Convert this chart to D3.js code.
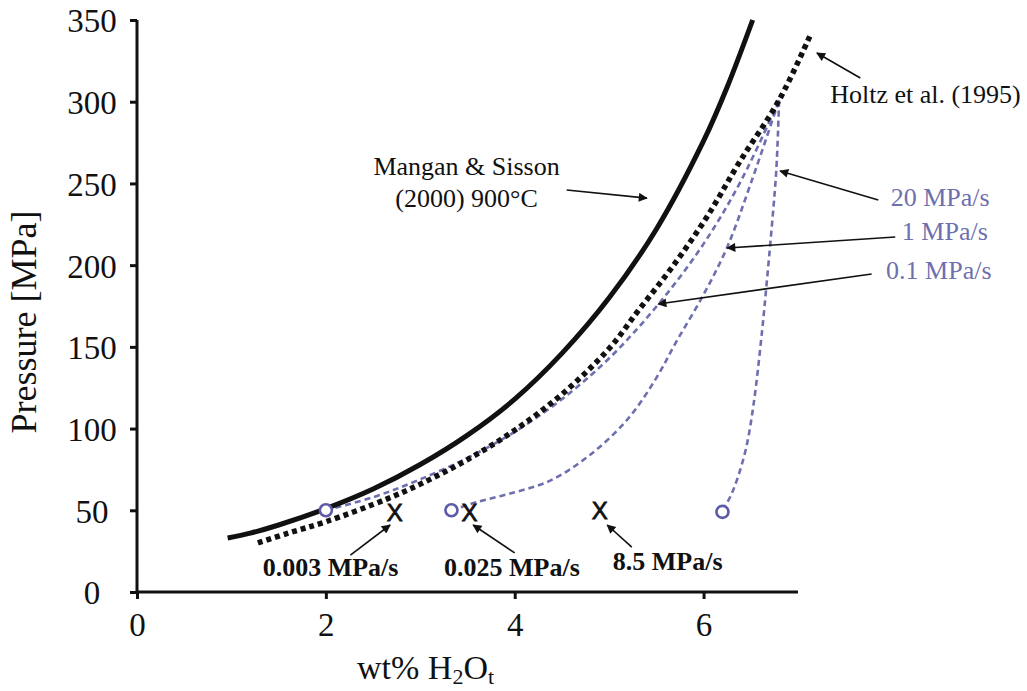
<!DOCTYPE html>
<html>
<head>
<meta charset="utf-8">
<script src="https://cdn.jsdelivr.net/npm/d3@7"></script>
<style>
 body { margin: 0; background: #fff; }
 svg { display: block; }
 .tick text { font-family: "Liberation Serif", "Times New Roman", serif; }
</style>
</head>
<body>
<svg width="1027" height="691"></svg>
<script>
// Mangan & Sisson (2000) 900°C solubility curve
const mangan = [
 [0.96, 33], [1.2, 36], [1.5, 41], [2.0, 51], [2.5, 63], [3.0, 78], [3.5, 96],
 [4.0, 118], [4.5, 146], [5.0, 180], [5.5, 222], [6.0, 276], [6.25, 309],
 [6.52, 350]
];

// Holtz et al. (1995)
const holtz = [
 [1.28, 30], [1.6, 36], [2.0, 43], [2.65, 57], [3.0, 66], [3.5, 81], [4.0, 99],
 [4.5, 121], [5.0, 149], [5.32, 173], [5.67, 199], [6.03, 229], [6.38, 263],
 [6.8, 301], [7.14, 342]
];

// decompression paths
const rate01 = [
 [2.0, 50], [2.5, 58], [2.96, 68], [3.5, 82], [4.0, 98], [4.5, 118], [5.0, 143],
 [5.52, 176], [6.0, 213], [6.4, 252], [6.8, 301]
];
const rate1 = [
 [3.33, 50], [3.6, 55], [4.0, 61], [4.37, 68], [4.8, 84], [5.2, 106], [5.5, 131],
 [5.71, 153], [6.0, 182], [6.25, 211], [6.5, 250], [6.8, 301]
];
const rate20 = [
 [6.2, 50], [6.28, 58], [6.35, 68], [6.45, 88], [6.53, 115], [6.62, 160],
 [6.67, 190], [6.72, 222], [6.77, 258], [6.8, 301]
];

const circles = [[2.0, 50], [3.33, 50], [6.2, 49]];
const crosses = [[2.73, 49], [3.52, 49], [4.9, 50]];

const xTicks = [0, 2, 4, 6];
const yTicks = [0, 50, 100, 150, 200, 250, 300, 350];

// annotation text: [w, P, text]
const bottomLabels = [[2.05, 9.5, "0.003 MPa/s"], [3.97, 9.5, "0.025 MPa/s"], [5.62, 13.5, "8.5 MPa/s"]];
const rateLabels = [[9.03, 236, "20 MPa/s"], [9.01, 215.4, "1 MPa/s"], [9.05, 191.5, "0.1 MPa/s"]];
const manganLabel = [[3.49, 255.2, "Mangan & Sisson"], [3.49, 235.6, "(2000) 900°C"]];
const holtzLabel = [8.35, 299.2, "Holtz et al. (1995)"];

// arrows: [w1, P1, w2, P2]
const arrows = [
 [2.26, 22.6, 2.68, 41], [4.0, 23.9, 3.56, 41], [5.24, 27.5, 4.98, 41],
 [4.55, 246, 5.4, 241],
 [7.66, 314.5, 7.2, 329.8],
 [7.85, 239.9, 6.81, 257.6], [8.03, 217.2, 6.25, 210.5], [7.78, 194.6, 5.52, 176.2]
];

const purple = "#6e6fae";
const serif = "'Liberation Serif', 'Times New Roman', serif";

const svg = d3.select("svg");

const x = d3.scaleLinear().domain([0, 7]).range([137, 798]);
const y = d3.scaleLinear().domain([0, 350]).range([592, 20]);

svg.append("defs")
 .append("marker")
 .attr("id", "head")
 .attr("viewBox", "0 0 10 10")
 .attr("refX", 9)
 .attr("refY", 5)
 .attr("markerWidth", 11)
 .attr("markerHeight", 9)
 .attr("markerUnits", "userSpaceOnUse")
 .attr("orient", "auto")
 .append("path")
 .attr("d", "M0,0 L10,5 L0,10 Z")
 .attr("fill", "#111");

// axes
const xAxis = svg.append("g")
 .attr("transform", `translate(0,${y(0)})`)
 .call(d3.axisBottom(x).tickValues(xTicks).tickFormat(d3.format("d"))
  .tickSize(7).tickSizeOuter(0).tickPadding(14));
const yAxis = svg.append("g")
 .attr("transform", `translate(${x(0)},0)`)
 .call(d3.axisLeft(y).tickValues(yTicks).tickSize(7).tickSizeOuter(0));

[xAxis, yAxis].forEach(a => {
 a.select(".domain").attr("stroke", "#111").attr("stroke-width", 3);
 a.selectAll(".tick line").attr("stroke", "#111").attr("stroke-width", 3);
 a.selectAll(".tick text").attr("fill", "#111").attr("font-size", 33);
});
xAxis.select(".domain").attr("d", `M${x(0)},0H${x(7)}`);
yAxis.select(".domain").attr("d", `M0,${y(0)}V${y(350)}`);
yAxis.selectAll(".tick text")
 .attr("text-anchor", "middle")
 .attr("x", 92 - x(0))
 .attr("dy", "0.36em");

// axis titles
svg.append("text")
 .attr("transform", "translate(36,322) rotate(-90)")
 .attr("text-anchor", "middle")
 .attr("font-family", serif)
 .attr("font-size", 36)
 .attr("fill", "#111")
 .text("Pressure [MPa]");

const xt = svg.append("text")
 .attr("x", 357)
 .attr("y", 679)
 .attr("font-family", serif)
 .attr("font-size", 34)
 .attr("fill", "#111");
xt.append("tspan").text("wt% H");
xt.append("tspan").attr("font-size", 22).attr("dy", 5).text("2");
xt.append("tspan").attr("dy", -5).text("O");
xt.append("tspan").attr("font-size", 22).attr("dy", 5).text("t");

// curves
const line = d3.line().x(d => x(d[0])).y(d => y(d[1])).curve(d3.curveCatmullRom);

[rate01, rate1, rate20].forEach(s => {
 svg.append("path")
  .attr("d", line(s))
  .attr("fill", "none")
  .attr("stroke", purple)
  .attr("stroke-width", 2.6)
  .attr("stroke-dasharray", "6,4");
});

svg.append("path")
 .attr("d", line(holtz))
 .attr("fill", "none")
 .attr("stroke", "#111")
 .attr("stroke-width", 5.5)
 .attr("stroke-dasharray", "5,4");

svg.append("path")
 .attr("d", line(mangan))
 .attr("fill", "none")
 .attr("stroke", "#111")
 .attr("stroke-width", 5);

svg.selectAll(".pt")
 .data(circles)
 .enter()
 .append("circle")
 .attr("cx", d => x(d[0]))
 .attr("cy", d => y(d[1]))
 .attr("r", 6)
 .attr("fill", "#fff")
 .attr("stroke", "#5d5aa8")
 .attr("stroke-width", 2.6);

svg.selectAll(".cross")
 .data(crosses)
 .enter()
 .append("text")
 .attr("x", d => x(d[0]))
 .attr("y", d => y(d[1]))
 .attr("dy", "0.36em")
 .attr("text-anchor", "middle")
 .attr("font-family", "'Liberation Sans', Arial, sans-serif")
 .attr("font-size", 24)
 .attr("fill", "#111")
 .attr("stroke", "#111")
 .attr("stroke-width", 0.8)
 .text("X");

// arrows
svg.selectAll(".arrow")
 .data(arrows)
 .enter()
 .append("line")
 .attr("x1", d => x(d[0]))
 .attr("y1", d => y(d[1]))
 .attr("x2", d => x(d[2]))
 .attr("y2", d => y(d[3]))
 .attr("stroke", "#111")
 .attr("stroke-width", 1.6)
 .attr("marker-end", "url(#head)");

// labels
svg.selectAll(".blabel")
 .data(bottomLabels)
 .enter()
 .append("text")
 .attr("x", d => x(d[0]))
 .attr("y", d => y(d[1]))
 .attr("text-anchor", "middle")
 .attr("font-family", serif)
 .attr("font-weight", "bold")
 .attr("font-size", 26)
 .attr("fill", "#111")
 .text(d => d[2]);

svg.selectAll(".rlabel")
 .data(rateLabels)
 .enter()
 .append("text")
 .attr("x", d => x(d[0]))
 .attr("y", d => y(d[1]))
 .attr("text-anchor", "end")
 .attr("font-family", serif)
 .attr("font-size", 26)
 .attr("fill", purple)
 .text(d => d[2]);

svg.selectAll(".mlabel")
 .data(manganLabel)
 .enter()
 .append("text")
 .attr("x", d => x(d[0]))
 .attr("y", d => y(d[1]))
 .attr("text-anchor", "middle")
 .attr("font-family", serif)
 .attr("font-size", 26)
 .attr("fill", "#111")
 .text(d => d[2]);

svg.append("text")
 .attr("x", x(holtzLabel[0]))
 .attr("y", y(holtzLabel[1]))
 .attr("text-anchor", "middle")
 .attr("font-family", serif)
 .attr("font-size", 26)
 .attr("fill", "#111")
 .text(holtzLabel[2]);
</script>
</body>
</html>
